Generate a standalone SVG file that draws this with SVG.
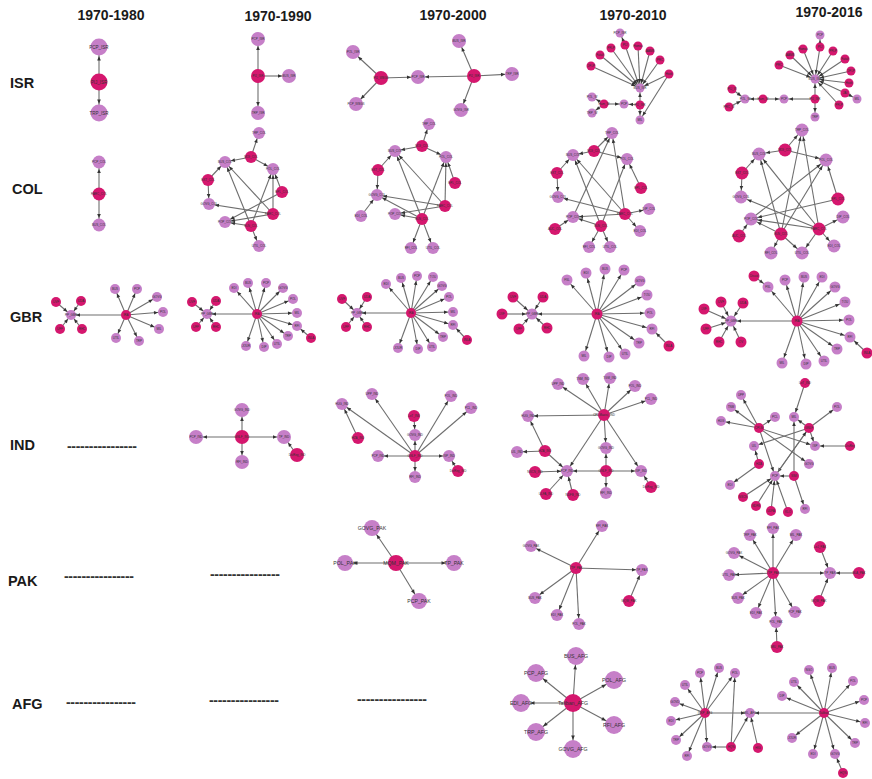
<svg xmlns="http://www.w3.org/2000/svg" width="872" height="779" viewBox="0 0 872 779">
<style>
.h{font:bold 14px "Liberation Sans",Arial,sans-serif;fill:#1a1a1a;text-anchor:middle}
.r{font:bold 14.5px "Liberation Sans",Arial,sans-serif;fill:#1a1a1a}
.d{font:bold 14px "Liberation Sans",Arial,sans-serif;fill:#333}
.p{fill:#c67fc8}
.m{fill:#d5176e}
.t{font:3px "Liberation Sans",Arial,sans-serif;fill:#333;text-anchor:middle}
.t4{font:4.5px "Liberation Sans",Arial,sans-serif;fill:#333;text-anchor:middle}
.t5{font:5.2px "Liberation Sans",Arial,sans-serif;fill:#333;text-anchor:middle}
#connectors line{stroke:#6e6e6e;stroke-width:1.1}
</style>
<defs>
<marker id="a5" markerUnits="userSpaceOnUse" markerWidth="5" markerHeight="4" refX="9" refY="1.8" orient="auto" overflow="visible"><path d="M0,0L4,1.8L0,3.6z" fill="#333"/></marker>
<marker id="a6" markerUnits="userSpaceOnUse" markerWidth="5" markerHeight="4" refX="10" refY="1.8" orient="auto" overflow="visible"><path d="M0,0L4,1.8L0,3.6z" fill="#333"/></marker>
<marker id="a7" markerUnits="userSpaceOnUse" markerWidth="5" markerHeight="4" refX="11" refY="1.8" orient="auto" overflow="visible"><path d="M0,0L4,1.8L0,3.6z" fill="#333"/></marker>
<marker id="a8" markerUnits="userSpaceOnUse" markerWidth="5" markerHeight="4" refX="12.5" refY="1.8" orient="auto" overflow="visible"><path d="M0,0L4.5,1.8L0,3.6z" fill="#333"/></marker>
<marker id="a9" markerUnits="userSpaceOnUse" markerWidth="5" markerHeight="4" refX="13.5" refY="1.8" orient="auto" overflow="visible"><path d="M0,0L4.5,1.8L0,3.6z" fill="#333"/></marker>
</defs>
<rect width="872" height="779" fill="#fff"/>

<g id="headers">
<text class="h" x="111" y="20">1970-1980</text>
<text class="h" x="278" y="21">1970-1990</text>
<text class="h" x="453" y="20">1970-2000</text>
<text class="h" x="633" y="20">1970-2010</text>
<text class="h" x="829" y="17">1970-2016</text>
<text class="r" x="10" y="88">ISR</text>
<text class="r" x="12" y="194">COL</text>
<text class="r" x="10" y="322">GBR</text>
<text class="r" x="10" y="450">IND</text>
<text class="r" x="8" y="586">PAK</text>
<text class="r" x="12" y="709">AFG</text>
</g>
<g id="dashes">
<text class="d" x="67" y="450.5" textLength="70" lengthAdjust="spacing">----------------</text>
<text class="d" x="64" y="580.5" textLength="70" lengthAdjust="spacing">----------------</text>
<text class="d" x="210" y="578.5" textLength="70" lengthAdjust="spacing">----------------</text>
<text class="d" x="66" y="706.5" textLength="70" lengthAdjust="spacing">----------------</text>
<text class="d" x="209" y="704.5" textLength="70" lengthAdjust="spacing">----------------</text>
<text class="d" x="357" y="703.5" textLength="70" lengthAdjust="spacing">----------------</text>
</g>

<g id="connectors">
<!-- ISR 1980 -->
<line x1="99" y1="82" x2="99" y2="47" marker-end="url(#a9)"/>
<line x1="99" y1="82" x2="99" y2="113" marker-end="url(#a9)"/>
<!-- ISR 1990 -->
<line x1="258" y1="76" x2="258" y2="39" marker-end="url(#a7)"/>
<line x1="258" y1="76" x2="289" y2="76" marker-end="url(#a7)"/>
<line x1="258" y1="76" x2="258" y2="113" marker-end="url(#a7)"/>
<!-- ISR 2000 -->
<line x1="381" y1="78" x2="353" y2="52" marker-end="url(#a7)"/>
<line x1="381" y1="78" x2="356" y2="104" marker-end="url(#a7)"/>
<line x1="381" y1="78" x2="418" y2="77" marker-end="url(#a7)"/>
<line x1="474" y1="76" x2="418" y2="77" marker-end="url(#a7)"/>
<line x1="474" y1="76" x2="459" y2="41" marker-end="url(#a7)"/>
<line x1="474" y1="76" x2="512" y2="74" marker-end="url(#a7)"/>
<line x1="474" y1="76" x2="461" y2="110" marker-end="url(#a7)"/>
<!-- ISR 2010 -->
<line x1="625" y1="45" x2="620" y2="33" marker-end="url(#a5)"/>
<line x1="625" y1="45" x2="640" y2="88" marker-end="url(#a5)"/>
<line x1="638" y1="46" x2="640" y2="88" marker-end="url(#a5)"/>
<line x1="611" y1="48" x2="640" y2="88" marker-end="url(#a5)"/>
<line x1="650" y1="51" x2="640" y2="88" marker-end="url(#a5)"/>
<line x1="600" y1="55" x2="640" y2="88" marker-end="url(#a5)"/>
<line x1="660" y1="60" x2="640" y2="88" marker-end="url(#a5)"/>
<line x1="591" y1="66" x2="640" y2="88" marker-end="url(#a5)"/>
<line x1="669" y1="74" x2="640" y2="88" marker-end="url(#a5)"/>
<line x1="640" y1="105" x2="640" y2="88" marker-end="url(#a5)"/>
<line x1="604" y1="104" x2="624" y2="104" marker-end="url(#a5)"/>
<line x1="640" y1="105" x2="624" y2="104" marker-end="url(#a5)"/>
<line x1="604" y1="104" x2="592" y2="97" marker-end="url(#a5)"/>
<line x1="604" y1="104" x2="592" y2="113" marker-end="url(#a5)"/>
<line x1="640" y1="105" x2="640" y2="120" marker-end="url(#a5)"/>
<line x1="669" y1="74" x2="640" y2="120" marker-end="url(#a5)"/>
<!-- ISR 2016 -->
<line x1="820" y1="47" x2="820" y2="35" marker-end="url(#a5)"/>
<line x1="820" y1="47" x2="815" y2="79" marker-end="url(#a5)"/>
<line x1="803" y1="49" x2="815" y2="79" marker-end="url(#a5)"/>
<line x1="833" y1="51" x2="815" y2="79" marker-end="url(#a5)"/>
<line x1="790" y1="55" x2="815" y2="79" marker-end="url(#a5)"/>
<line x1="845" y1="59" x2="815" y2="79" marker-end="url(#a5)"/>
<line x1="779" y1="65" x2="815" y2="79" marker-end="url(#a5)"/>
<line x1="851" y1="71" x2="815" y2="79" marker-end="url(#a5)"/>
<line x1="849" y1="83" x2="815" y2="79" marker-end="url(#a5)"/>
<line x1="845" y1="93" x2="815" y2="79" marker-end="url(#a5)"/>
<line x1="839" y1="105" x2="815" y2="79" marker-end="url(#a5)"/>
<line x1="845" y1="93" x2="857" y2="99" marker-end="url(#a5)"/>
<line x1="815" y1="99" x2="815" y2="79" marker-end="url(#a5)"/>
<line x1="815" y1="99" x2="815" y2="117" marker-end="url(#a5)"/>
<line x1="815" y1="99" x2="784" y2="99" marker-end="url(#a5)"/>
<line x1="763" y1="99" x2="784" y2="99" marker-end="url(#a5)"/>
<line x1="763" y1="99" x2="745" y2="99" marker-end="url(#a5)"/>
<line x1="732" y1="89" x2="745" y2="99" marker-end="url(#a5)"/>
<line x1="729" y1="107" x2="745" y2="99" marker-end="url(#a5)"/>
<!-- COL 1980 -->
<line x1="99" y1="194" x2="99" y2="162" marker-end="url(#a7)"/>
<line x1="99" y1="194" x2="99" y2="225" marker-end="url(#a7)"/>
<!-- COL 1990 -->
<line x1="251" y1="157" x2="259" y2="133" marker-end="url(#a6)"/>
<line x1="251" y1="157" x2="225" y2="162" marker-end="url(#a6)"/>
<line x1="251" y1="157" x2="273" y2="169" marker-end="url(#a6)"/>
<line x1="208" y1="180" x2="225" y2="162" marker-end="url(#a6)"/>
<line x1="208" y1="180" x2="209" y2="204" marker-end="url(#a6)"/>
<line x1="282" y1="192" x2="273" y2="169" marker-end="url(#a6)"/>
<line x1="273" y1="214" x2="225" y2="162" marker-end="url(#a6)"/>
<line x1="273" y1="214" x2="225" y2="222" marker-end="url(#a6)"/>
<line x1="273" y1="214" x2="209" y2="204" marker-end="url(#a6)"/>
<line x1="273" y1="214" x2="273" y2="169" marker-end="url(#a6)"/>
<line x1="251" y1="226" x2="273" y2="169" marker-end="url(#a6)"/>
<line x1="251" y1="226" x2="225" y2="162" marker-end="url(#a6)"/>
<line x1="251" y1="226" x2="225" y2="222" marker-end="url(#a6)"/>
<line x1="251" y1="226" x2="259" y2="246" marker-end="url(#a6)"/>
<line x1="282" y1="192" x2="225" y2="222" marker-end="url(#a6)"/>
<!-- COL 2000 -->
<line x1="422" y1="146" x2="429" y2="124" marker-end="url(#a6)"/>
<line x1="422" y1="146" x2="395" y2="151" marker-end="url(#a6)"/>
<line x1="422" y1="146" x2="446" y2="157" marker-end="url(#a6)"/>
<line x1="378" y1="170" x2="395" y2="151" marker-end="url(#a6)"/>
<line x1="378" y1="170" x2="377" y2="195" marker-end="url(#a6)"/>
<line x1="455" y1="183" x2="446" y2="157" marker-end="url(#a6)"/>
<line x1="361" y1="216" x2="377" y2="195" marker-end="url(#a6)"/>
<line x1="445" y1="206" x2="377" y2="195" marker-end="url(#a6)"/>
<line x1="445" y1="206" x2="395" y2="214" marker-end="url(#a6)"/>
<line x1="445" y1="206" x2="395" y2="151" marker-end="url(#a6)"/>
<line x1="445" y1="206" x2="446" y2="157" marker-end="url(#a6)"/>
<line x1="422" y1="219" x2="395" y2="214" marker-end="url(#a6)"/>
<line x1="422" y1="219" x2="377" y2="195" marker-end="url(#a6)"/>
<line x1="422" y1="219" x2="446" y2="157" marker-end="url(#a6)"/>
<line x1="422" y1="219" x2="411" y2="248" marker-end="url(#a6)"/>
<line x1="422" y1="219" x2="433" y2="248" marker-end="url(#a6)"/>
<line x1="422" y1="219" x2="395" y2="151" marker-end="url(#a6)"/>
<!-- COL 2010 -->
<line x1="594" y1="151" x2="612" y2="133" marker-end="url(#a6)"/>
<line x1="594" y1="151" x2="573" y2="155" marker-end="url(#a6)"/>
<line x1="594" y1="151" x2="627" y2="159" marker-end="url(#a6)"/>
<line x1="557" y1="173" x2="573" y2="155" marker-end="url(#a6)"/>
<line x1="557" y1="173" x2="558" y2="197" marker-end="url(#a6)"/>
<line x1="641" y1="188" x2="627" y2="159" marker-end="url(#a6)"/>
<line x1="555" y1="229" x2="573" y2="217" marker-end="url(#a6)"/>
<line x1="625" y1="214" x2="649" y2="209" marker-end="url(#a6)"/>
<line x1="625" y1="214" x2="640" y2="231" marker-end="url(#a6)"/>
<line x1="601" y1="226" x2="589" y2="247" marker-end="url(#a6)"/>
<line x1="601" y1="226" x2="610" y2="247" marker-end="url(#a6)"/>
<line x1="625" y1="214" x2="573" y2="217" marker-end="url(#a6)"/>
<line x1="601" y1="226" x2="573" y2="217" marker-end="url(#a6)"/>
<line x1="625" y1="214" x2="558" y2="197" marker-end="url(#a6)"/>
<line x1="601" y1="226" x2="573" y2="155" marker-end="url(#a6)"/>
<line x1="601" y1="226" x2="627" y2="159" marker-end="url(#a6)"/>
<line x1="625" y1="214" x2="612" y2="133" marker-end="url(#a6)"/>
<line x1="625" y1="214" x2="573" y2="155" marker-end="url(#a6)"/>
<line x1="573" y1="217" x2="612" y2="133" marker-end="url(#a6)"/>
<!-- COL 2016 -->
<line x1="785" y1="150" x2="802" y2="130" marker-end="url(#a7)"/>
<line x1="785" y1="150" x2="759" y2="154" marker-end="url(#a7)"/>
<line x1="785" y1="150" x2="826" y2="160" marker-end="url(#a7)"/>
<line x1="742" y1="173" x2="759" y2="154" marker-end="url(#a7)"/>
<line x1="742" y1="173" x2="741" y2="197" marker-end="url(#a7)"/>
<line x1="838" y1="199" x2="826" y2="160" marker-end="url(#a7)"/>
<line x1="838" y1="199" x2="751" y2="219" marker-end="url(#a7)"/>
<line x1="739" y1="236" x2="751" y2="219" marker-end="url(#a7)"/>
<line x1="819" y1="229" x2="843" y2="217" marker-end="url(#a7)"/>
<line x1="819" y1="229" x2="834" y2="246" marker-end="url(#a7)"/>
<line x1="781" y1="234" x2="771" y2="253" marker-end="url(#a7)"/>
<line x1="781" y1="234" x2="802" y2="253" marker-end="url(#a7)"/>
<line x1="819" y1="229" x2="802" y2="253" marker-end="url(#a7)"/>
<line x1="819" y1="229" x2="751" y2="219" marker-end="url(#a7)"/>
<line x1="781" y1="234" x2="751" y2="219" marker-end="url(#a7)"/>
<line x1="819" y1="229" x2="741" y2="197" marker-end="url(#a7)"/>
<line x1="781" y1="234" x2="759" y2="154" marker-end="url(#a7)"/>
<line x1="781" y1="234" x2="826" y2="160" marker-end="url(#a7)"/>
<line x1="819" y1="229" x2="802" y2="130" marker-end="url(#a7)"/>
<line x1="781" y1="234" x2="802" y2="130" marker-end="url(#a7)"/>
<line x1="819" y1="229" x2="759" y2="154" marker-end="url(#a7)"/>
<line x1="751" y1="219" x2="826" y2="160" marker-end="url(#a7)"/>
<!-- GBR 1980 -->
<line x1="56" y1="302" x2="71" y2="315" marker-end="url(#a5)"/>
<line x1="81" y1="301" x2="71" y2="315" marker-end="url(#a5)"/>
<line x1="60" y1="329" x2="71" y2="315" marker-end="url(#a5)"/>
<line x1="82" y1="329" x2="71" y2="315" marker-end="url(#a5)"/>
<line x1="126" y1="315" x2="71" y2="315" marker-end="url(#a5)"/>
<line x1="126" y1="315" x2="115" y2="289" marker-end="url(#a5)"/>
<line x1="126" y1="315" x2="137" y2="289" marker-end="url(#a5)"/>
<line x1="126" y1="315" x2="157" y2="297" marker-end="url(#a5)"/>
<line x1="126" y1="315" x2="163" y2="312" marker-end="url(#a5)"/>
<line x1="126" y1="315" x2="159" y2="329" marker-end="url(#a5)"/>
<line x1="126" y1="315" x2="139" y2="341" marker-end="url(#a5)"/>
<line x1="126" y1="315" x2="116" y2="338" marker-end="url(#a5)"/>
<!-- GBR 1990 -->
<line x1="192" y1="302" x2="207" y2="314" marker-end="url(#a5)"/>
<line x1="216" y1="301" x2="207" y2="314" marker-end="url(#a5)"/>
<line x1="196" y1="327" x2="207" y2="314" marker-end="url(#a5)"/>
<line x1="216" y1="327" x2="207" y2="314" marker-end="url(#a5)"/>
<line x1="257" y1="314" x2="207" y2="314" marker-end="url(#a5)"/>
<line x1="257" y1="314" x2="234" y2="288" marker-end="url(#a5)"/>
<line x1="257" y1="314" x2="248" y2="283" marker-end="url(#a5)"/>
<line x1="257" y1="314" x2="266" y2="283" marker-end="url(#a5)"/>
<line x1="257" y1="314" x2="283" y2="288" marker-end="url(#a5)"/>
<line x1="257" y1="314" x2="293" y2="299" marker-end="url(#a5)"/>
<line x1="257" y1="314" x2="297" y2="313" marker-end="url(#a5)"/>
<line x1="257" y1="314" x2="297" y2="326" marker-end="url(#a5)"/>
<line x1="257" y1="314" x2="288" y2="336" marker-end="url(#a5)"/>
<line x1="257" y1="314" x2="277" y2="344" marker-end="url(#a5)"/>
<line x1="257" y1="314" x2="264" y2="347" marker-end="url(#a5)"/>
<line x1="257" y1="314" x2="246" y2="346" marker-end="url(#a5)"/>
<line x1="311" y1="338" x2="297" y2="326" marker-end="url(#a5)"/>
<!-- GBR 2000 -->
<line x1="342" y1="299" x2="357" y2="313" marker-end="url(#a5)"/>
<line x1="367" y1="297" x2="357" y2="313" marker-end="url(#a5)"/>
<line x1="346" y1="327" x2="357" y2="313" marker-end="url(#a5)"/>
<line x1="367" y1="327" x2="357" y2="313" marker-end="url(#a5)"/>
<line x1="411" y1="313" x2="357" y2="313" marker-end="url(#a5)"/>
<line x1="411" y1="313" x2="386" y2="284" marker-end="url(#a5)"/>
<line x1="411" y1="313" x2="401" y2="278" marker-end="url(#a5)"/>
<line x1="411" y1="313" x2="417" y2="276" marker-end="url(#a5)"/>
<line x1="411" y1="313" x2="433" y2="277" marker-end="url(#a5)"/>
<line x1="411" y1="313" x2="442" y2="286" marker-end="url(#a5)"/>
<line x1="411" y1="313" x2="449" y2="297" marker-end="url(#a5)"/>
<line x1="411" y1="313" x2="453" y2="312" marker-end="url(#a5)"/>
<line x1="411" y1="313" x2="453" y2="325" marker-end="url(#a5)"/>
<line x1="411" y1="313" x2="443" y2="337" marker-end="url(#a5)"/>
<line x1="411" y1="313" x2="432" y2="347" marker-end="url(#a5)"/>
<line x1="411" y1="313" x2="418" y2="349" marker-end="url(#a5)"/>
<line x1="411" y1="313" x2="398" y2="348" marker-end="url(#a5)"/>
<line x1="467" y1="340" x2="453" y2="325" marker-end="url(#a5)"/>
<!-- GBR 2010 -->
<line x1="513" y1="297" x2="532" y2="314" marker-end="url(#a6)"/>
<line x1="543" y1="297" x2="532" y2="314" marker-end="url(#a6)"/>
<line x1="502" y1="314" x2="532" y2="314" marker-end="url(#a6)"/>
<line x1="519" y1="329" x2="532" y2="314" marker-end="url(#a6)"/>
<line x1="547" y1="328" x2="532" y2="314" marker-end="url(#a6)"/>
<line x1="597" y1="314" x2="532" y2="314" marker-end="url(#a6)"/>
<line x1="597" y1="314" x2="567" y2="280" marker-end="url(#a6)"/>
<line x1="597" y1="314" x2="586" y2="273" marker-end="url(#a6)"/>
<line x1="597" y1="314" x2="605" y2="269" marker-end="url(#a6)"/>
<line x1="597" y1="314" x2="624" y2="270" marker-end="url(#a6)"/>
<line x1="597" y1="314" x2="640" y2="281" marker-end="url(#a6)"/>
<line x1="597" y1="314" x2="647" y2="295" marker-end="url(#a6)"/>
<line x1="597" y1="314" x2="650" y2="313" marker-end="url(#a6)"/>
<line x1="597" y1="314" x2="652" y2="329" marker-end="url(#a6)"/>
<line x1="597" y1="314" x2="639" y2="343" marker-end="url(#a6)"/>
<line x1="597" y1="314" x2="625" y2="354" marker-end="url(#a6)"/>
<line x1="597" y1="314" x2="609" y2="357" marker-end="url(#a6)"/>
<line x1="597" y1="314" x2="584" y2="356" marker-end="url(#a6)"/>
<line x1="669" y1="346" x2="652" y2="329" marker-end="url(#a6)"/>
<!-- GBR 2016 -->
<line x1="721" y1="302" x2="731" y2="321" marker-end="url(#a6)"/>
<line x1="743" y1="303" x2="731" y2="321" marker-end="url(#a6)"/>
<line x1="704" y1="309" x2="731" y2="321" marker-end="url(#a6)"/>
<line x1="706" y1="329" x2="731" y2="321" marker-end="url(#a6)"/>
<line x1="719" y1="342" x2="731" y2="321" marker-end="url(#a6)"/>
<line x1="741" y1="342" x2="731" y2="321" marker-end="url(#a6)"/>
<line x1="797" y1="321" x2="731" y2="321" marker-end="url(#a6)"/>
<line x1="797" y1="321" x2="768" y2="287" marker-end="url(#a6)"/>
<line x1="754" y1="276" x2="768" y2="287" marker-end="url(#a6)"/>
<line x1="797" y1="321" x2="785" y2="280" marker-end="url(#a6)"/>
<line x1="797" y1="321" x2="804" y2="277" marker-end="url(#a6)"/>
<line x1="797" y1="321" x2="822" y2="277" marker-end="url(#a6)"/>
<line x1="797" y1="321" x2="835" y2="287" marker-end="url(#a6)"/>
<line x1="797" y1="321" x2="845" y2="302" marker-end="url(#a6)"/>
<line x1="797" y1="321" x2="849" y2="320" marker-end="url(#a6)"/>
<line x1="797" y1="321" x2="850" y2="337" marker-end="url(#a6)"/>
<line x1="867" y1="353" x2="850" y2="337" marker-end="url(#a6)"/>
<line x1="797" y1="321" x2="837" y2="349" marker-end="url(#a6)"/>
<line x1="797" y1="321" x2="824" y2="361" marker-end="url(#a6)"/>
<line x1="797" y1="321" x2="806" y2="364" marker-end="url(#a6)"/>
<line x1="797" y1="321" x2="782" y2="363" marker-end="url(#a6)"/>
<!-- IND 1990 -->
<line x1="242" y1="437" x2="242" y2="410" marker-end="url(#a7)"/>
<line x1="242" y1="437" x2="196" y2="437" marker-end="url(#a7)"/>
<line x1="242" y1="437" x2="242" y2="462" marker-end="url(#a7)"/>
<line x1="242" y1="437" x2="284" y2="437" marker-end="url(#a7)"/>
<line x1="297" y1="455" x2="284" y2="437" marker-end="url(#a7)"/>
<!-- IND 2000 -->
<line x1="415" y1="456" x2="342" y2="404" marker-end="url(#a6)"/>
<line x1="415" y1="456" x2="372" y2="394" marker-end="url(#a6)"/>
<line x1="415" y1="456" x2="415" y2="435" marker-end="url(#a6)"/>
<line x1="415" y1="456" x2="451" y2="396" marker-end="url(#a6)"/>
<line x1="415" y1="456" x2="471" y2="408" marker-end="url(#a6)"/>
<line x1="415" y1="456" x2="378" y2="456" marker-end="url(#a6)"/>
<line x1="415" y1="456" x2="449" y2="456" marker-end="url(#a6)"/>
<line x1="415" y1="456" x2="415" y2="477" marker-end="url(#a6)"/>
<line x1="414" y1="416" x2="415" y2="435" marker-end="url(#a6)"/>
<line x1="358" y1="438" x2="342" y2="404" marker-end="url(#a6)"/>
<line x1="458" y1="471" x2="449" y2="456" marker-end="url(#a6)"/>
<!-- IND 2010 -->
<line x1="604" y1="415" x2="558" y2="384" marker-end="url(#a6)"/>
<line x1="604" y1="415" x2="583" y2="379" marker-end="url(#a6)"/>
<line x1="604" y1="415" x2="610" y2="378" marker-end="url(#a6)"/>
<line x1="604" y1="415" x2="635" y2="386" marker-end="url(#a6)"/>
<line x1="604" y1="415" x2="651" y2="399" marker-end="url(#a6)"/>
<line x1="604" y1="415" x2="528" y2="416" marker-end="url(#a6)"/>
<line x1="604" y1="415" x2="606" y2="448" marker-end="url(#a6)"/>
<line x1="604" y1="415" x2="641" y2="471" marker-end="url(#a6)"/>
<line x1="604" y1="415" x2="567" y2="471" marker-end="url(#a6)"/>
<line x1="545" y1="451" x2="528" y2="416" marker-end="url(#a6)"/>
<line x1="545" y1="451" x2="517" y2="452" marker-end="url(#a6)"/>
<line x1="545" y1="451" x2="567" y2="471" marker-end="url(#a6)"/>
<line x1="606" y1="471" x2="606" y2="448" marker-end="url(#a6)"/>
<line x1="606" y1="471" x2="641" y2="471" marker-end="url(#a6)"/>
<line x1="606" y1="471" x2="606" y2="493" marker-end="url(#a6)"/>
<line x1="606" y1="471" x2="567" y2="471" marker-end="url(#a6)"/>
<line x1="651" y1="487" x2="641" y2="471" marker-end="url(#a6)"/>
<line x1="535" y1="472" x2="567" y2="471" marker-end="url(#a6)"/>
<line x1="546" y1="494" x2="567" y2="471" marker-end="url(#a6)"/>
<line x1="573" y1="495" x2="567" y2="471" marker-end="url(#a6)"/>
<!-- IND 2016 -->
<line x1="805" y1="383" x2="794" y2="417" marker-end="url(#a5)"/>
<line x1="759" y1="428" x2="741" y2="395" marker-end="url(#a5)"/>
<line x1="759" y1="428" x2="731" y2="407" marker-end="url(#a5)"/>
<line x1="759" y1="428" x2="721" y2="421" marker-end="url(#a5)"/>
<line x1="759" y1="428" x2="775" y2="417" marker-end="url(#a5)"/>
<line x1="759" y1="428" x2="815" y2="446" marker-end="url(#a5)"/>
<line x1="759" y1="428" x2="809" y2="464" marker-end="url(#a5)"/>
<line x1="759" y1="428" x2="775" y2="476" marker-end="url(#a5)"/>
<line x1="809" y1="428" x2="794" y2="417" marker-end="url(#a5)"/>
<line x1="809" y1="428" x2="837" y2="407" marker-end="url(#a5)"/>
<line x1="809" y1="428" x2="754" y2="446" marker-end="url(#a5)"/>
<line x1="809" y1="428" x2="815" y2="446" marker-end="url(#a5)"/>
<line x1="809" y1="428" x2="775" y2="476" marker-end="url(#a5)"/>
<line x1="850" y1="446" x2="815" y2="446" marker-end="url(#a5)"/>
<line x1="759" y1="464" x2="754" y2="446" marker-end="url(#a5)"/>
<line x1="759" y1="464" x2="730" y2="485" marker-end="url(#a5)"/>
<line x1="794" y1="476" x2="794" y2="417" marker-end="url(#a5)"/>
<line x1="794" y1="476" x2="775" y2="476" marker-end="url(#a5)"/>
<line x1="794" y1="476" x2="805" y2="509" marker-end="url(#a5)"/>
<line x1="743" y1="497" x2="775" y2="476" marker-end="url(#a5)"/>
<line x1="756" y1="506" x2="775" y2="476" marker-end="url(#a5)"/>
<line x1="771" y1="511" x2="775" y2="476" marker-end="url(#a5)"/>
<line x1="788" y1="512" x2="775" y2="476" marker-end="url(#a5)"/>
<line x1="775" y1="476" x2="809" y2="428" marker-end="url(#a5)"/>
<!-- PAK 2000 -->
<line x1="396" y1="563" x2="372" y2="528" marker-end="url(#a8)"/>
<line x1="396" y1="563" x2="345" y2="563" marker-end="url(#a8)"/>
<line x1="396" y1="563" x2="454" y2="563" marker-end="url(#a8)"/>
<line x1="396" y1="563" x2="419" y2="601" marker-end="url(#a8)"/>
<!-- PAK 2010 -->
<line x1="576" y1="568" x2="531" y2="546" marker-end="url(#a6)"/>
<line x1="576" y1="568" x2="602" y2="526" marker-end="url(#a6)"/>
<line x1="576" y1="568" x2="642" y2="570" marker-end="url(#a6)"/>
<line x1="576" y1="568" x2="535" y2="598" marker-end="url(#a6)"/>
<line x1="576" y1="568" x2="557" y2="615" marker-end="url(#a6)"/>
<line x1="576" y1="568" x2="579" y2="624" marker-end="url(#a6)"/>
<line x1="629" y1="601" x2="642" y2="570" marker-end="url(#a6)"/>
<!-- PAK 2016 -->
<line x1="773" y1="573" x2="773" y2="528" marker-end="url(#a6)"/>
<line x1="773" y1="573" x2="750" y2="535" marker-end="url(#a6)"/>
<line x1="773" y1="573" x2="796" y2="535" marker-end="url(#a6)"/>
<line x1="773" y1="573" x2="734" y2="553" marker-end="url(#a6)"/>
<line x1="773" y1="573" x2="830" y2="573" marker-end="url(#a6)"/>
<line x1="773" y1="573" x2="729" y2="575" marker-end="url(#a6)"/>
<line x1="773" y1="573" x2="738" y2="598" marker-end="url(#a6)"/>
<line x1="773" y1="573" x2="756" y2="613" marker-end="url(#a6)"/>
<line x1="773" y1="573" x2="776" y2="622" marker-end="url(#a6)"/>
<line x1="773" y1="573" x2="795" y2="612" marker-end="url(#a6)"/>
<line x1="820" y1="547" x2="830" y2="573" marker-end="url(#a6)"/>
<line x1="859" y1="573" x2="830" y2="573" marker-end="url(#a6)"/>
<line x1="819" y1="601" x2="830" y2="573" marker-end="url(#a6)"/>
<line x1="777" y1="647" x2="776" y2="622" marker-end="url(#a6)"/>
<!-- AFG 2010 -->
<line x1="573" y1="703" x2="576" y2="656" marker-end="url(#a9)"/>
<line x1="573" y1="703" x2="536" y2="673" marker-end="url(#a9)"/>
<line x1="573" y1="703" x2="521" y2="703" marker-end="url(#a9)"/>
<line x1="573" y1="703" x2="536" y2="732" marker-end="url(#a9)"/>
<line x1="573" y1="703" x2="573" y2="749" marker-end="url(#a9)"/>
<line x1="573" y1="703" x2="614" y2="680" marker-end="url(#a9)"/>
<line x1="573" y1="703" x2="614" y2="725" marker-end="url(#a9)"/>
<!-- AFG 2016 -->
<line x1="705" y1="713" x2="685" y2="685" marker-end="url(#a5)"/>
<line x1="705" y1="713" x2="700" y2="673" marker-end="url(#a5)"/>
<line x1="705" y1="713" x2="719" y2="668" marker-end="url(#a5)"/>
<line x1="705" y1="713" x2="735" y2="673" marker-end="url(#a5)"/>
<line x1="705" y1="713" x2="675" y2="702" marker-end="url(#a5)"/>
<line x1="705" y1="713" x2="671" y2="721" marker-end="url(#a5)"/>
<line x1="705" y1="713" x2="676" y2="740" marker-end="url(#a5)"/>
<line x1="705" y1="713" x2="687" y2="756" marker-end="url(#a5)"/>
<line x1="705" y1="713" x2="707" y2="747" marker-end="url(#a5)"/>
<line x1="705" y1="713" x2="750" y2="713" marker-end="url(#a5)"/>
<line x1="731" y1="747" x2="707" y2="747" marker-end="url(#a5)"/>
<line x1="731" y1="747" x2="735" y2="673" marker-end="url(#a5)"/>
<line x1="731" y1="747" x2="750" y2="713" marker-end="url(#a5)"/>
<line x1="758" y1="748" x2="750" y2="713" marker-end="url(#a5)"/>
<line x1="824" y1="713" x2="750" y2="713" marker-end="url(#a5)"/>
<line x1="824" y1="713" x2="794" y2="682" marker-end="url(#a5)"/>
<line x1="824" y1="713" x2="809" y2="670" marker-end="url(#a5)"/>
<line x1="824" y1="713" x2="832" y2="668" marker-end="url(#a5)"/>
<line x1="824" y1="713" x2="853" y2="681" marker-end="url(#a5)"/>
<line x1="824" y1="713" x2="864" y2="700" marker-end="url(#a5)"/>
<line x1="824" y1="713" x2="865" y2="723" marker-end="url(#a5)"/>
<line x1="824" y1="713" x2="855" y2="743" marker-end="url(#a5)"/>
<line x1="824" y1="713" x2="835" y2="754" marker-end="url(#a5)"/>
<line x1="824" y1="713" x2="813" y2="754" marker-end="url(#a5)"/>
<line x1="824" y1="713" x2="792" y2="738" marker-end="url(#a5)"/>
<line x1="824" y1="713" x2="782" y2="696" marker-end="url(#a5)"/>
<line x1="843" y1="773" x2="835" y2="754" marker-end="url(#a5)"/>
</g>

<g id="nodes">
<!-- ISR 1980 -->
<g id="isr80-pcp"><circle class="p" cx="99" cy="47" r="8.5"/><text class="t4" x="99" y="48.6">PCP_ISR</text></g>
<g id="isr80-pij"><circle class="m" cx="99" cy="82" r="8.5"/><text class="t4" x="99" y="83.6">PIJ_ISR</text></g>
<g id="isr80-trp"><circle class="p" cx="99" cy="113" r="8.5"/><text class="t4" x="99" y="114.6">TRP_ISR</text></g>
<!-- ISR 1990 -->
<g id="isr90-pcp"><circle class="p" cx="258" cy="39" r="7"/><text class="t" x="258" y="40">PCP_ISR</text></g>
<g id="isr90-pij"><circle class="m" cx="258" cy="76" r="7"/><text class="t" x="258" y="77">PIJ_ISR</text></g>
<g id="isr90-bus"><circle class="p" cx="289" cy="76" r="7"/><text class="t" x="289" y="77">BUS_ISR</text></g>
<g id="isr90-trp"><circle class="p" cx="258" cy="113" r="7"/><text class="t" x="258" y="114">TRP_ISR</text></g>
<!-- ISR 2000 -->
<g id="isr00-polw"><circle class="p" cx="353" cy="52" r="7"/><text class="t" x="353" y="53">POL_ISR</text></g>
<g id="isr00-pijw"><circle class="m" cx="381" cy="78" r="7"/><text class="t" x="381" y="79">PIJ_WBGS</text></g>
<g id="isr00-pcpw"><circle class="p" cx="356" cy="104" r="7"/><text class="t" x="356" y="105">PCP_WBGS</text></g>
<g id="isr00-pcp"><circle class="p" cx="418" cy="77" r="7"/><text class="t" x="418" y="78">PCP_ISR</text></g>
<g id="isr00-pij"><circle class="m" cx="474" cy="76" r="7"/><text class="t" x="474" y="77">PIJ_ISR</text></g>
<g id="isr00-bus"><circle class="p" cx="459" cy="41" r="7"/><text class="t" x="459" y="42">BUS_ISR</text></g>
<g id="isr00-trp"><circle class="p" cx="512" cy="74" r="7"/><text class="t" x="512" y="75">TRP_ISR</text></g>
<g id="isr00-govg"><circle class="p" cx="461" cy="110" r="7"/><text class="t" x="461" y="111">GOVG_ISR</text></g>
<!-- ISR 2010 -->
<g id="isr10-pcp"><circle class="p" cx="620" cy="33" r="4.5"/><text class="t" x="620" y="34">PCP_ISR</text></g>
<g id="isr10-a"><circle class="m" cx="625" cy="45" r="4.5"/><text class="t" x="625" y="46">PIJ</text></g>
<g id="isr10-b"><circle class="m" cx="638" cy="46" r="4.5"/><text class="t" x="638" y="47">Hamas</text></g>
<g id="isr10-c"><circle class="m" cx="611" cy="48" r="4.5"/><text class="t" x="611" y="49">PFLP</text></g>
<g id="isr10-d"><circle class="m" cx="650" cy="51" r="4.5"/><text class="t" x="650" y="52">AAMB</text></g>
<g id="isr10-e"><circle class="m" cx="600" cy="55" r="4.5"/><text class="t" x="600" y="56">Fatah</text></g>
<g id="isr10-f"><circle class="m" cx="660" cy="60" r="4.5"/><text class="t" x="660" y="61">PRC</text></g>
<g id="isr10-g"><circle class="m" cx="591" cy="66" r="4.5"/><text class="t" x="591" y="67">DFLP</text></g>
<g id="isr10-h"><circle class="m" cx="669" cy="74" r="4.5"/><text class="t" x="669" y="75">Hezb</text></g>
<g id="isr10-hub"><circle class="p" cx="640" cy="88" r="4.5"/><text class="t" x="640" y="89">BUS_ISR</text></g>
<g id="isr10-k"><circle class="m" cx="640" cy="105" r="4.5"/><text class="t" x="640" y="106">PIJ_ISR</text></g>
<g id="isr10-l"><circle class="p" cx="624" cy="104" r="4.5"/><text class="t" x="624" y="105">PCP</text></g>
<g id="isr10-n"><circle class="m" cx="604" cy="104" r="4.5"/><text class="t" x="604" y="105">Ham_W</text></g>
<g id="isr10-o"><circle class="p" cx="592" cy="97" r="4.5"/><text class="t" x="592" y="98">POL_W</text></g>
<g id="isr10-q"><circle class="p" cx="592" cy="113" r="4.5"/><text class="t" x="592" y="114">TRP_W</text></g>
<g id="isr10-s"><circle class="p" cx="640" cy="120" r="4.5"/><text class="t" x="640" y="121">MIL</text></g>
<!-- ISR 2016 -->
<g id="isr16-pcp"><circle class="p" cx="820" cy="35" r="4.5"/><text class="t" x="820" y="36">PCP</text></g>
<g id="isr16-a"><circle class="m" cx="820" cy="47" r="4.5"/><text class="t" x="820" y="48">PIJ</text></g>
<g id="isr16-b"><circle class="m" cx="803" cy="49" r="4.5"/><text class="t" x="803" y="50">Hamas</text></g>
<g id="isr16-c"><circle class="m" cx="833" cy="51" r="4.5"/><text class="t" x="833" y="52">PFLP</text></g>
<g id="isr16-d"><circle class="m" cx="790" cy="55" r="4.5"/><text class="t" x="790" y="56">AAMB</text></g>
<g id="isr16-e"><circle class="m" cx="845" cy="59" r="4.5"/><text class="t" x="845" y="60">Fatah</text></g>
<g id="isr16-f"><circle class="m" cx="779" cy="65" r="4.5"/><text class="t" x="779" y="66">PRC</text></g>
<g id="isr16-g"><circle class="m" cx="851" cy="71" r="4.5"/><text class="t" x="851" y="72">DFLP</text></g>
<g id="isr16-h"><circle class="m" cx="849" cy="83" r="4.5"/><text class="t" x="849" y="84">Hezb</text></g>
<g id="isr16-i"><circle class="m" cx="845" cy="93" r="4.5"/><text class="t" x="845" y="94">JAI</text></g>
<g id="isr16-j"><circle class="p" cx="857" cy="99" r="4.5"/><text class="t" x="857" y="100">MIL</text></g>
<g id="isr16-k"><circle class="m" cx="839" cy="105" r="4.5"/><text class="t" x="839" y="106">PFLP</text></g>
<g id="isr16-hub"><circle class="p" cx="815" cy="79" r="4.5"/><text class="t" x="815" y="80">BUS_ISR</text></g>
<g id="isr16-l"><circle class="m" cx="815" cy="99" r="4.5"/><text class="t" x="815" y="100">PIJ_ISR</text></g>
<g id="isr16-s"><circle class="p" cx="815" cy="117" r="4.5"/><text class="t" x="815" y="118">TRP</text></g>
<g id="isr16-u"><circle class="p" cx="784" cy="99" r="4.5"/><text class="t" x="784" y="100">PCP</text></g>
<g id="isr16-v"><circle class="m" cx="763" cy="99" r="4.5"/><text class="t" x="763" y="100">Ham_W</text></g>
<g id="isr16-w"><circle class="p" cx="745" cy="99" r="4.5"/><text class="t" x="745" y="100">POL_W</text></g>
<g id="isr16-x"><circle class="m" cx="732" cy="89" r="4.5"/><text class="t" x="732" y="90">PIJ_W</text></g>
<g id="isr16-y"><circle class="m" cx="729" cy="107" r="4.5"/><text class="t" x="729" y="108">PRC_W</text></g>
<!-- COL 1980 -->
<g id="col80-pcp"><circle class="p" cx="99" cy="162" r="6.5"/><text class="t" x="99" y="163">PCP_COL</text></g>
<g id="col80-farc"><circle class="m" cx="99" cy="194" r="6.5"/><text class="t" x="99" y="195">FARC_COL</text></g>
<g id="col80-bus"><circle class="p" cx="99" cy="225" r="6.5"/><text class="t" x="99" y="226">BUS_COL</text></g>
<!-- COL 1990 -->
<g id="col90-trp"><circle class="p" cx="259" cy="133" r="6"/><text class="t" x="259" y="134">TRP_COL</text></g>
<g id="col90-bus"><circle class="p" cx="225" cy="162" r="6"/><text class="t" x="225" y="163">BUS_COL</text></g>
<g id="col90-m19"><circle class="m" cx="251" cy="157" r="6"/><text class="t" x="251" y="158">M19_COL</text></g>
<g id="col90-pol"><circle class="p" cx="273" cy="169" r="6"/><text class="t" x="273" y="170">POL_COL</text></g>
<g id="col90-ext"><circle class="m" cx="208" cy="180" r="6"/><text class="t" x="208" y="181">EXT_COL</text></g>
<g id="col90-epl"><circle class="m" cx="282" cy="192" r="6"/><text class="t" x="282" y="193">EPL_COL</text></g>
<g id="col90-govg"><circle class="p" cx="209" cy="204" r="6"/><text class="t" x="209" y="205">GOVG_COL</text></g>
<g id="col90-farc"><circle class="m" cx="273" cy="214" r="6"/><text class="t" x="273" y="215">FARC_COL</text></g>
<g id="col90-pop"><circle class="p" cx="225" cy="222" r="6"/><text class="t" x="225" y="223">POP_COL</text></g>
<g id="col90-eln"><circle class="m" cx="251" cy="226" r="6"/><text class="t" x="251" y="227">ELN_COL</text></g>
<g id="col90-util"><circle class="p" cx="259" cy="246" r="6"/><text class="t" x="259" y="247">UTIL_COL</text></g>
<!-- COL 2000 -->
<g id="col00-trp"><circle class="p" cx="429" cy="124" r="6"/><text class="t" x="429" y="125">TRP_COL</text></g>
<g id="col00-m19"><circle class="m" cx="422" cy="146" r="6"/><text class="t" x="422" y="147">M19_COL</text></g>
<g id="col00-bus"><circle class="p" cx="395" cy="151" r="6"/><text class="t" x="395" y="152">BUS_COL</text></g>
<g id="col00-pol"><circle class="p" cx="446" cy="157" r="6"/><text class="t" x="446" y="158">POL_COL</text></g>
<g id="col00-ext"><circle class="m" cx="378" cy="170" r="6"/><text class="t" x="378" y="171">EXT_COL</text></g>
<g id="col00-epl"><circle class="m" cx="455" cy="183" r="6"/><text class="t" x="455" y="184">EPL_COL</text></g>
<g id="col00-govg"><circle class="p" cx="377" cy="195" r="6"/><text class="t" x="377" y="196">GOVG_COL</text></g>
<g id="col00-edi"><circle class="p" cx="361" cy="216" r="6"/><text class="t" x="361" y="217">EDI_COL</text></g>
<g id="col00-pop"><circle class="p" cx="395" cy="214" r="6"/><text class="t" x="395" y="215">POP_COL</text></g>
<g id="col00-farc"><circle class="m" cx="445" cy="206" r="6"/><text class="t" x="445" y="207">FARC_COL</text></g>
<g id="col00-eln"><circle class="m" cx="422" cy="219" r="6"/><text class="t" x="422" y="220">ELN_COL</text></g>
<g id="col00-rfi"><circle class="p" cx="411" cy="248" r="6"/><text class="t" x="411" y="249">RFI_COL</text></g>
<g id="col00-util"><circle class="p" cx="433" cy="248" r="6"/><text class="t" x="433" y="249">UTIL_COL</text></g>
<!-- COL 2010 -->
<g id="col10-trp"><circle class="p" cx="612" cy="133" r="6"/><text class="t" x="612" y="134">TRP_COL</text></g>
<g id="col10-m19"><circle class="m" cx="594" cy="151" r="6"/><text class="t" x="594" y="152">M19_COL</text></g>
<g id="col10-bus"><circle class="p" cx="573" cy="155" r="6"/><text class="t" x="573" y="156">BUS_COL</text></g>
<g id="col10-pol"><circle class="p" cx="627" cy="159" r="6"/><text class="t" x="627" y="160">POL_COL</text></g>
<g id="col10-ext"><circle class="m" cx="557" cy="173" r="6"/><text class="t" x="557" y="174">EXT_COL</text></g>
<g id="col10-epl"><circle class="m" cx="641" cy="188" r="6"/><text class="t" x="641" y="189">EPL_COL</text></g>
<g id="col10-govg"><circle class="p" cx="558" cy="197" r="6"/><text class="t" x="558" y="198">GOVG_COL</text></g>
<g id="col10-pop"><circle class="p" cx="573" cy="217" r="6"/><text class="t" x="573" y="218">POP_COL</text></g>
<g id="col10-asc"><circle class="m" cx="555" cy="229" r="6"/><text class="t" x="555" y="230">AUC_COL</text></g>
<g id="col10-eln"><circle class="m" cx="601" cy="226" r="6"/><text class="t" x="601" y="227">ELN_COL</text></g>
<g id="col10-farc"><circle class="m" cx="625" cy="214" r="6"/><text class="t" x="625" y="215">FARC_COL</text></g>
<g id="col10-dip"><circle class="p" cx="649" cy="209" r="6"/><text class="t" x="649" y="210">DIP_COL</text></g>
<g id="col10-edi"><circle class="p" cx="640" cy="231" r="6"/><text class="t" x="640" y="232">EDI_COL</text></g>
<g id="col10-rfi"><circle class="p" cx="589" cy="247" r="6"/><text class="t" x="589" y="248">RFI_COL</text></g>
<g id="col10-util"><circle class="p" cx="610" cy="247" r="6"/><text class="t" x="610" y="248">UTIL_COL</text></g>
<!-- COL 2016 -->
<g id="col16-trp"><circle class="p" cx="802" cy="130" r="6.5"/><text class="t" x="802" y="131">TRP_COL</text></g>
<g id="col16-m19"><circle class="m" cx="785" cy="150" r="6.5"/><text class="t" x="785" y="151">M19_COL</text></g>
<g id="col16-bus"><circle class="p" cx="759" cy="154" r="6.5"/><text class="t" x="759" y="155">BUS_COL</text></g>
<g id="col16-pol"><circle class="p" cx="826" cy="160" r="6.5"/><text class="t" x="826" y="161">POL_COL</text></g>
<g id="col16-ext"><circle class="m" cx="742" cy="173" r="6.5"/><text class="t" x="742" y="174">EXT_COL</text></g>
<g id="col16-govg"><circle class="p" cx="741" cy="197" r="6.5"/><text class="t" x="741" y="198">GOVG_COL</text></g>
<g id="col16-epl"><circle class="m" cx="838" cy="199" r="6.5"/><text class="t" x="838" y="200">EPL_COL</text></g>
<g id="col16-pop"><circle class="p" cx="751" cy="219" r="6.5"/><text class="t" x="751" y="220">POP_COL</text></g>
<g id="col16-asc"><circle class="m" cx="739" cy="236" r="6.5"/><text class="t" x="739" y="237">AUC_COL</text></g>
<g id="col16-eln"><circle class="m" cx="781" cy="234" r="6.5"/><text class="t" x="781" y="235">ELN_COL</text></g>
<g id="col16-farc"><circle class="m" cx="819" cy="229" r="6.5"/><text class="t" x="819" y="230">FARC_COL</text></g>
<g id="col16-dip"><circle class="p" cx="843" cy="217" r="6.5"/><text class="t" x="843" y="218">DIP_COL</text></g>
<g id="col16-edi"><circle class="p" cx="834" cy="246" r="6.5"/><text class="t" x="834" y="247">EDI_COL</text></g>
<g id="col16-rfi"><circle class="p" cx="771" cy="253" r="6.5"/><text class="t" x="771" y="254">RFI_COL</text></g>
<g id="col16-util"><circle class="p" cx="802" cy="253" r="6.5"/><text class="t" x="802" y="254">UTIL_COL</text></g>
<!-- GBR 1980 -->
<g id="gbr80-pp"><circle class="p" cx="71" cy="315" r="5"/><text class="t" x="71" y="316">PP_GBR</text></g>
<g id="gbr80-m1"><circle class="m" cx="56" cy="302" r="5"/><text class="t" x="56" y="303">UVF</text></g>
<g id="gbr80-m2"><circle class="m" cx="81" cy="301" r="5"/><text class="t" x="81" y="302">UDA</text></g>
<g id="gbr80-m3"><circle class="m" cx="60" cy="329" r="5"/><text class="t" x="60" y="330">UFF</text></g>
<g id="gbr80-m4"><circle class="m" cx="82" cy="329" r="5"/><text class="t" x="82" y="330">RHC</text></g>
<g id="gbr80-ira"><circle class="m" cx="126" cy="315" r="5"/><text class="t" x="126" y="316">IRA</text></g>
<g id="gbr80-s1"><circle class="p" cx="115" cy="289" r="5"/><text class="t" x="115" y="290">BUS</text></g>
<g id="gbr80-s2"><circle class="p" cx="137" cy="289" r="5"/><text class="t" x="137" y="290">PCP</text></g>
<g id="gbr80-s3"><circle class="p" cx="157" cy="297" r="5"/><text class="t" x="157" y="298">GOVG</text></g>
<g id="gbr80-s4"><circle class="p" cx="163" cy="312" r="5"/><text class="t" x="163" y="313">POL</text></g>
<g id="gbr80-s5"><circle class="p" cx="159" cy="329" r="5"/><text class="t" x="159" y="330">MIL</text></g>
<g id="gbr80-s6"><circle class="p" cx="139" cy="341" r="5"/><text class="t" x="139" y="342">TRP</text></g>
<g id="gbr80-s7"><circle class="p" cx="116" cy="338" r="5"/><text class="t" x="116" y="339">UTIL</text></g>
<!-- GBR 1990 -->
<g id="gbr90-pp"><circle class="p" cx="207" cy="314" r="5"/><text class="t" x="207" y="315">PP_GBR</text></g>
<g id="gbr90-m1"><circle class="m" cx="192" cy="302" r="5"/><text class="t" x="192" y="303">UVF</text></g>
<g id="gbr90-m2"><circle class="m" cx="216" cy="301" r="5"/><text class="t" x="216" y="302">UDA</text></g>
<g id="gbr90-m3"><circle class="m" cx="196" cy="327" r="5"/><text class="t" x="196" y="328">UFF</text></g>
<g id="gbr90-m4"><circle class="m" cx="216" cy="327" r="5"/><text class="t" x="216" y="328">RHC</text></g>
<g id="gbr90-ira"><circle class="m" cx="257" cy="314" r="5"/><text class="t" x="257" y="315">IRA</text></g>
<g id="gbr90-s1"><circle class="p" cx="234" cy="288" r="5"/><text class="t" x="234" y="289">EDI</text></g>
<g id="gbr90-s2"><circle class="p" cx="248" cy="283" r="5"/><text class="t" x="248" y="284">BUS</text></g>
<g id="gbr90-s3"><circle class="p" cx="266" cy="283" r="5"/><text class="t" x="266" y="284">PCP</text></g>
<g id="gbr90-s4"><circle class="p" cx="283" cy="288" r="5"/><text class="t" x="283" y="289">GOVG</text></g>
<g id="gbr90-s5"><circle class="p" cx="293" cy="299" r="5"/><text class="t" x="293" y="300">POL</text></g>
<g id="gbr90-s6"><circle class="p" cx="297" cy="313" r="5"/><text class="t" x="297" y="314">MIL</text></g>
<g id="gbr90-s7"><circle class="p" cx="297" cy="326" r="5"/><text class="t" x="297" y="327">RFI</text></g>
<g id="gbr90-s8"><circle class="p" cx="288" cy="336" r="5"/><text class="t" x="288" y="337">TRP</text></g>
<g id="gbr90-s9"><circle class="p" cx="277" cy="344" r="5"/><text class="t" x="277" y="345">UTIL</text></g>
<g id="gbr90-s10"><circle class="p" cx="264" cy="347" r="5"/><text class="t" x="264" y="348">DIP</text></g>
<g id="gbr90-s11"><circle class="p" cx="246" cy="346" r="5"/><text class="t" x="246" y="347">JOUR</text></g>
<g id="gbr90-m5"><circle class="m" cx="311" cy="338" r="5"/><text class="t" x="311" y="339">INLA</text></g>
<!-- GBR 2000 -->
<g id="gbr00-pp"><circle class="p" cx="357" cy="313" r="5"/><text class="t" x="357" y="314">PP_GBR</text></g>
<g id="gbr00-m1"><circle class="m" cx="342" cy="299" r="5"/><text class="t" x="342" y="300">UVF</text></g>
<g id="gbr00-m2"><circle class="m" cx="367" cy="297" r="5"/><text class="t" x="367" y="298">UDA</text></g>
<g id="gbr00-m3"><circle class="m" cx="346" cy="327" r="5"/><text class="t" x="346" y="328">UFF</text></g>
<g id="gbr00-m4"><circle class="m" cx="367" cy="327" r="5"/><text class="t" x="367" y="328">RHC</text></g>
<g id="gbr00-ira"><circle class="m" cx="411" cy="313" r="5"/><text class="t" x="411" y="314">IRA</text></g>
<g id="gbr00-s1"><circle class="p" cx="386" cy="284" r="5"/><text class="t" x="386" y="285">EDI</text></g>
<g id="gbr00-s2"><circle class="p" cx="401" cy="278" r="5"/><text class="t" x="401" y="279">BUS</text></g>
<g id="gbr00-s3"><circle class="p" cx="417" cy="276" r="5"/><text class="t" x="417" y="277">PCP</text></g>
<g id="gbr00-s4"><circle class="p" cx="433" cy="277" r="5"/><text class="t" x="433" y="278">TOU</text></g>
<g id="gbr00-s5"><circle class="p" cx="442" cy="286" r="5"/><text class="t" x="442" y="287">GOVG</text></g>
<g id="gbr00-s6"><circle class="p" cx="449" cy="297" r="5"/><text class="t" x="449" y="298">POL</text></g>
<g id="gbr00-s7"><circle class="p" cx="453" cy="312" r="5"/><text class="t" x="453" y="313">MIL</text></g>
<g id="gbr00-s8"><circle class="p" cx="453" cy="325" r="5"/><text class="t" x="453" y="326">RFI</text></g>
<g id="gbr00-s9"><circle class="p" cx="443" cy="337" r="5"/><text class="t" x="443" y="338">TRP</text></g>
<g id="gbr00-s10"><circle class="p" cx="432" cy="347" r="5"/><text class="t" x="432" y="348">UTIL</text></g>
<g id="gbr00-s11"><circle class="p" cx="418" cy="349" r="5"/><text class="t" x="418" y="350">DIP</text></g>
<g id="gbr00-s12"><circle class="p" cx="398" cy="348" r="5"/><text class="t" x="398" y="349">JOUR</text></g>
<g id="gbr00-m5"><circle class="m" cx="467" cy="340" r="5"/><text class="t" x="467" y="341">INLA</text></g>
<!-- GBR 2010 -->
<g id="gbr10-pp"><circle class="p" cx="532" cy="314" r="5.5"/><text class="t" x="532" y="315">PP_GBR</text></g>
<g id="gbr10-m1"><circle class="m" cx="513" cy="297" r="5.5"/><text class="t" x="513" y="298">UVF</text></g>
<g id="gbr10-m2"><circle class="m" cx="543" cy="297" r="5.5"/><text class="t" x="543" y="298">UDA</text></g>
<g id="gbr10-m3"><circle class="m" cx="502" cy="314" r="5.5"/><text class="t" x="502" y="315">LVF</text></g>
<g id="gbr10-m4"><circle class="m" cx="519" cy="329" r="5.5"/><text class="t" x="519" y="330">UFF</text></g>
<g id="gbr10-m5"><circle class="m" cx="547" cy="328" r="5.5"/><text class="t" x="547" y="329">RHC</text></g>
<g id="gbr10-ira"><circle class="m" cx="597" cy="314" r="5.5"/><text class="t" x="597" y="315">IRA</text></g>
<g id="gbr10-s1"><circle class="p" cx="567" cy="280" r="5.5"/><text class="t" x="567" y="281">FSL</text></g>
<g id="gbr10-s2"><circle class="p" cx="586" cy="273" r="5.5"/><text class="t" x="586" y="274">EDI</text></g>
<g id="gbr10-s3"><circle class="p" cx="605" cy="269" r="5.5"/><text class="t" x="605" y="270">BUS</text></g>
<g id="gbr10-s4"><circle class="p" cx="624" cy="270" r="5.5"/><text class="t" x="624" y="271">PCP</text></g>
<g id="gbr10-s5"><circle class="p" cx="640" cy="281" r="5.5"/><text class="t" x="640" y="282">GOVG</text></g>
<g id="gbr10-s6"><circle class="p" cx="647" cy="295" r="5.5"/><text class="t" x="647" y="296">TOU</text></g>
<g id="gbr10-s7"><circle class="p" cx="650" cy="313" r="5.5"/><text class="t" x="650" y="314">POL</text></g>
<g id="gbr10-s8"><circle class="p" cx="652" cy="329" r="5.5"/><text class="t" x="652" y="330">RFI</text></g>
<g id="gbr10-s9"><circle class="p" cx="639" cy="343" r="5.5"/><text class="t" x="639" y="344">TRP</text></g>
<g id="gbr10-s10"><circle class="p" cx="625" cy="354" r="5.5"/><text class="t" x="625" y="355">UTIL</text></g>
<g id="gbr10-s11"><circle class="p" cx="609" cy="357" r="5.5"/><text class="t" x="609" y="358">DIP</text></g>
<g id="gbr10-s12"><circle class="p" cx="584" cy="356" r="5.5"/><text class="t" x="584" y="357">MIL</text></g>
<g id="gbr10-m6"><circle class="m" cx="669" cy="346" r="5.5"/><text class="t" x="669" y="347">INLA</text></g>
<!-- GBR 2016 -->
<g id="gbr16-pp"><circle class="p" cx="731" cy="321" r="5.5"/><text class="t" x="731" y="322">PP_GBR</text></g>
<g id="gbr16-m1"><circle class="m" cx="721" cy="302" r="5.5"/><text class="t" x="721" y="303">UVF</text></g>
<g id="gbr16-m2"><circle class="m" cx="743" cy="303" r="5.5"/><text class="t" x="743" y="304">UDA</text></g>
<g id="gbr16-m3"><circle class="m" cx="704" cy="309" r="5.5"/><text class="t" x="704" y="310">LVF</text></g>
<g id="gbr16-m4"><circle class="m" cx="706" cy="329" r="5.5"/><text class="t" x="706" y="330">UFF</text></g>
<g id="gbr16-m5"><circle class="m" cx="719" cy="342" r="5.5"/><text class="t" x="719" y="343">RHC</text></g>
<g id="gbr16-m6"><circle class="m" cx="741" cy="342" r="5.5"/><text class="t" x="741" y="343">OV</text></g>
<g id="gbr16-ira"><circle class="m" cx="797" cy="321" r="5.5"/><text class="t" x="797" y="322">IRA</text></g>
<g id="gbr16-m7"><circle class="m" cx="754" cy="276" r="5.5"/><text class="t" x="754" y="277">Dissid</text></g>
<g id="gbr16-s1"><circle class="p" cx="768" cy="287" r="5.5"/><text class="t" x="768" y="288">FSL</text></g>
<g id="gbr16-s2"><circle class="p" cx="785" cy="280" r="5.5"/><text class="t" x="785" y="281">PCP</text></g>
<g id="gbr16-s3"><circle class="p" cx="804" cy="277" r="5.5"/><text class="t" x="804" y="278">BUS</text></g>
<g id="gbr16-s4"><circle class="p" cx="822" cy="277" r="5.5"/><text class="t" x="822" y="278">EDI</text></g>
<g id="gbr16-s5"><circle class="p" cx="835" cy="287" r="5.5"/><text class="t" x="835" y="288">GOVG</text></g>
<g id="gbr16-s6"><circle class="p" cx="845" cy="302" r="5.5"/><text class="t" x="845" y="303">TOU</text></g>
<g id="gbr16-s7"><circle class="p" cx="849" cy="320" r="5.5"/><text class="t" x="849" y="321">POL</text></g>
<g id="gbr16-s8"><circle class="p" cx="850" cy="337" r="5.5"/><text class="t" x="850" y="338">RFI</text></g>
<g id="gbr16-m8"><circle class="m" cx="867" cy="353" r="5.5"/><text class="t" x="867" y="354">INLA</text></g>
<g id="gbr16-s9"><circle class="p" cx="837" cy="349" r="5.5"/><text class="t" x="837" y="350">TRP</text></g>
<g id="gbr16-s10"><circle class="p" cx="824" cy="361" r="5.5"/><text class="t" x="824" y="362">UTIL</text></g>
<g id="gbr16-s11"><circle class="p" cx="806" cy="364" r="5.5"/><text class="t" x="806" y="365">DIP</text></g>
<g id="gbr16-s12"><circle class="p" cx="782" cy="363" r="5.5"/><text class="t" x="782" y="364">MIL</text></g>
<!-- IND 1990 -->
<g id="ind90-govg"><circle class="p" cx="242" cy="410" r="7"/><text class="t" x="242" y="411">GOVG_IND</text></g>
<g id="ind90-c"><circle class="m" cx="242" cy="437" r="7"/><text class="t" x="242" y="438">GNLF_IND</text></g>
<g id="ind90-pcp"><circle class="p" cx="196" cy="437" r="7"/><text class="t" x="196" y="438">PCP_IND</text></g>
<g id="ind90-rfi"><circle class="p" cx="242" cy="462" r="7"/><text class="t" x="242" y="463">RFI_IND</text></g>
<g id="ind90-tp"><circle class="p" cx="284" cy="437" r="7"/><text class="t" x="284" y="438">TP_IND</text></g>
<g id="ind90-dr"><circle class="m" cx="297" cy="455" r="7"/><text class="t" x="297" y="456">DisReg_IND</text></g>
<!-- IND 2000 -->
<g id="ind00-c"><circle class="m" cx="415" cy="456" r="6"/><text class="t" x="415" y="457">GNLF_IND</text></g>
<g id="ind00-hug"><circle class="p" cx="342" cy="404" r="6"/><text class="t" x="342" y="405">HUG_IND</text></g>
<g id="ind00-upp"><circle class="p" cx="372" cy="394" r="6"/><text class="t" x="372" y="395">UPP_IND</text></g>
<g id="ind00-let"><circle class="m" cx="414" cy="416" r="6"/><text class="t" x="414" y="417">LeT_IND</text></g>
<g id="ind00-govg"><circle class="p" cx="415" cy="435" r="6"/><text class="t" x="415" y="436">GOVG_IND</text></g>
<g id="ind00-pol"><circle class="p" cx="451" cy="396" r="6"/><text class="t" x="451" y="397">POL_IND</text></g>
<g id="ind00-pcl"><circle class="p" cx="471" cy="408" r="6"/><text class="t" x="471" y="409">PCL_IND</text></g>
<g id="ind00-hza"><circle class="m" cx="358" cy="438" r="6"/><text class="t" x="358" y="439">HZA_IND</text></g>
<g id="ind00-pcp"><circle class="p" cx="378" cy="456" r="6"/><text class="t" x="378" y="457">PCP_IND</text></g>
<g id="ind00-isp"><circle class="p" cx="449" cy="456" r="6"/><text class="t" x="449" y="457">ISP_IND</text></g>
<g id="ind00-dr"><circle class="m" cx="458" cy="471" r="6"/><text class="t" x="458" y="472">DisReg_IND</text></g>
<g id="ind00-rfi"><circle class="p" cx="415" cy="477" r="6"/><text class="t" x="415" y="478">RFI_IND</text></g>
<!-- IND 2010 -->
<g id="ind10-upp"><circle class="p" cx="558" cy="384" r="6"/><text class="t" x="558" y="385">UPP_IND</text></g>
<g id="ind10-tnm"><circle class="p" cx="583" cy="379" r="6"/><text class="t" x="583" y="380">TNM_IND</text></g>
<g id="ind10-tnm2"><circle class="p" cx="610" cy="378" r="6"/><text class="t" x="610" y="379">TGM_IND</text></g>
<g id="ind10-pol"><circle class="p" cx="635" cy="386" r="6"/><text class="t" x="635" y="387">POL_IND</text></g>
<g id="ind10-pcl"><circle class="p" cx="651" cy="399" r="6"/><text class="t" x="651" y="400">PCL_IND</text></g>
<g id="ind10-hub"><circle class="m" cx="604" cy="415" r="6"/><text class="t" x="604" y="416">CPI-Maoist_IND</text></g>
<g id="ind10-hug"><circle class="p" cx="528" cy="416" r="6"/><text class="t" x="528" y="417">HUG_IND</text></g>
<g id="ind10-hza"><circle class="m" cx="545" cy="451" r="6"/><text class="t" x="545" y="452">HZA_IND</text></g>
<g id="ind10-uil"><circle class="p" cx="517" cy="452" r="6"/><text class="t" x="517" y="453">UIL_IND</text></g>
<g id="ind10-pcp"><circle class="p" cx="567" cy="471" r="6"/><text class="t" x="567" y="472">PCP_IND</text></g>
<g id="ind10-govg"><circle class="p" cx="606" cy="448" r="6"/><text class="t" x="606" y="449">GOVG_IND</text></g>
<g id="ind10-c"><circle class="m" cx="606" cy="471" r="6"/><text class="t" x="606" y="472">GNLF_IND</text></g>
<g id="ind10-isp"><circle class="p" cx="641" cy="471" r="6"/><text class="t" x="641" y="472">ISP_IND</text></g>
<g id="ind10-dr"><circle class="m" cx="651" cy="487" r="6"/><text class="t" x="651" y="488">DisReg_IND</text></g>
<g id="ind10-rfi"><circle class="p" cx="606" cy="493" r="6"/><text class="t" x="606" y="494">RFI_IND</text></g>
<g id="ind10-m1"><circle class="m" cx="535" cy="472" r="6"/><text class="t" x="535" y="473">NSCN_IND</text></g>
<g id="ind10-m2"><circle class="m" cx="546" cy="494" r="6"/><text class="t" x="546" y="495">ULFA_IND</text></g>
<g id="ind10-m3"><circle class="m" cx="573" cy="495" r="6"/><text class="t" x="573" y="496">NDFB_IND</text></g>
<!-- IND 2016 -->
<g id="ind16-t"><circle class="m" cx="805" cy="383" r="5"/><text class="t" x="805" y="384">LeT_IND</text></g>
<g id="ind16-a"><circle class="p" cx="741" cy="395" r="5"/><text class="t" x="741" y="396">UPP</text></g>
<g id="ind16-b"><circle class="p" cx="731" cy="407" r="5"/><text class="t" x="731" y="408">TNM</text></g>
<g id="ind16-c"><circle class="p" cx="837" cy="407" r="5"/><text class="t" x="837" y="408">POL</text></g>
<g id="ind16-d"><circle class="p" cx="721" cy="421" r="5"/><text class="t" x="721" y="422">HUG</text></g>
<g id="ind16-e"><circle class="p" cx="775" cy="417" r="5"/><text class="t" x="775" y="418">PCL</text></g>
<g id="ind16-f"><circle class="p" cx="794" cy="417" r="5"/><text class="t" x="794" y="418">MIL</text></g>
<g id="ind16-h1"><circle class="m" cx="759" cy="428" r="5"/><text class="t" x="759" y="429">CPI-M</text></g>
<g id="ind16-h2"><circle class="m" cx="809" cy="428" r="5"/><text class="t" x="809" y="429">GNLF</text></g>
<g id="ind16-g"><circle class="p" cx="754" cy="446" r="5"/><text class="t" x="754" y="447">UIL</text></g>
<g id="ind16-h"><circle class="p" cx="815" cy="446" r="5"/><text class="t" x="815" y="447">ISP</text></g>
<g id="ind16-i"><circle class="m" cx="850" cy="446" r="5"/><text class="t" x="850" y="447">DisReg</text></g>
<g id="ind16-j"><circle class="m" cx="759" cy="464" r="5"/><text class="t" x="759" y="465">HZA</text></g>
<g id="ind16-k"><circle class="p" cx="809" cy="464" r="5"/><text class="t" x="809" y="465">GOVG</text></g>
<g id="ind16-p"><circle class="p" cx="775" cy="476" r="5"/><text class="t" x="775" y="477">PCP</text></g>
<g id="ind16-l"><circle class="m" cx="794" cy="476" r="5"/><text class="t" x="794" y="477">SIMI</text></g>
<g id="ind16-n"><circle class="p" cx="730" cy="485" r="5"/><text class="t" x="730" y="486">EDI</text></g>
<g id="ind16-o"><circle class="m" cx="743" cy="497" r="5"/><text class="t" x="743" y="498">NSCN</text></g>
<g id="ind16-q"><circle class="m" cx="756" cy="506" r="5"/><text class="t" x="756" y="507">NDFB</text></g>
<g id="ind16-r"><circle class="m" cx="771" cy="511" r="5"/><text class="t" x="771" y="512">ULFA</text></g>
<g id="ind16-s"><circle class="m" cx="788" cy="512" r="5"/><text class="t" x="788" y="513">KLO</text></g>
<g id="ind16-u"><circle class="p" cx="805" cy="509" r="5"/><text class="t" x="805" y="510">RFI</text></g>
<!-- PAK 2000 -->
<g id="pak00-govg"><circle class="p" cx="372" cy="528" r="8"/><text class="t5" x="372" y="530">GOVG_PAK</text></g>
<g id="pak00-mqm"><circle class="m" cx="396" cy="563" r="8"/><text class="t5" x="396" y="565">MQM_PAK</text></g>
<g id="pak00-pol"><circle class="p" cx="345" cy="563" r="8"/><text class="t5" x="345" y="565">POL_PAK</text></g>
<g id="pak00-tp"><circle class="p" cx="454" cy="563" r="8"/><text class="t5" x="454" y="565">TP_PAK</text></g>
<g id="pak00-pcp"><circle class="p" cx="419" cy="601" r="8"/><text class="t5" x="419" y="603">PCP_PAK</text></g>
<!-- PAK 2010 -->
<g id="pak10-govg"><circle class="p" cx="531" cy="546" r="6"/><text class="t" x="531" y="547">GOVG_PAK</text></g>
<g id="pak10-ttp"><circle class="m" cx="576" cy="568" r="6"/><text class="t" x="576" y="569">TTP_PAK</text></g>
<g id="pak10-rfi"><circle class="p" cx="602" cy="526" r="6"/><text class="t" x="602" y="527">RFI_PAK</text></g>
<g id="pak10-tp"><circle class="p" cx="642" cy="570" r="6"/><text class="t" x="642" y="571">TP_PAK</text></g>
<g id="pak10-lej"><circle class="m" cx="629" cy="601" r="6"/><text class="t" x="629" y="602">MQM_PAK</text></g>
<g id="pak10-bus"><circle class="p" cx="535" cy="598" r="6"/><text class="t" x="535" y="599">BUS_PAK</text></g>
<g id="pak10-edi"><circle class="p" cx="557" cy="615" r="6"/><text class="t" x="557" y="616">EDI_PAK</text></g>
<g id="pak10-pol"><circle class="p" cx="579" cy="624" r="6"/><text class="t" x="579" y="625">POL_PAK</text></g>
<!-- PAK 2016 -->
<g id="pak16-a"><circle class="p" cx="773" cy="528" r="6"/><text class="t" x="773" y="529">RFI_PAK</text></g>
<g id="pak16-b"><circle class="p" cx="750" cy="535" r="6"/><text class="t" x="750" y="536">TRP_PAK</text></g>
<g id="pak16-c"><circle class="p" cx="796" cy="535" r="6"/><text class="t" x="796" y="536">MIL_PAK</text></g>
<g id="pak16-m1"><circle class="m" cx="820" cy="547" r="6"/><text class="t" x="820" y="548">LeJ_PAK</text></g>
<g id="pak16-govg"><circle class="p" cx="734" cy="553" r="6"/><text class="t" x="734" y="554">GOVG_PAK</text></g>
<g id="pak16-ttp"><circle class="m" cx="773" cy="573" r="6"/><text class="t" x="773" y="574">TTP_PAK</text></g>
<g id="pak16-tp"><circle class="p" cx="830" cy="573" r="6"/><text class="t" x="830" y="574">TP_PAK</text></g>
<g id="pak16-m2"><circle class="m" cx="859" cy="573" r="6"/><text class="t" x="859" y="574">BLA_PAK</text></g>
<g id="pak16-e"><circle class="p" cx="729" cy="575" r="6"/><text class="t" x="729" y="576">UTIL_PAK</text></g>
<g id="pak16-f"><circle class="p" cx="738" cy="598" r="6"/><text class="t" x="738" y="599">BUS_PAK</text></g>
<g id="pak16-g"><circle class="p" cx="756" cy="613" r="6"/><text class="t" x="756" y="614">EDI_PAK</text></g>
<g id="pak16-h"><circle class="p" cx="776" cy="622" r="6"/><text class="t" x="776" y="623">POL_PAK</text></g>
<g id="pak16-i"><circle class="p" cx="795" cy="612" r="6"/><text class="t" x="795" y="613">PCP_PAK</text></g>
<g id="pak16-m3"><circle class="m" cx="819" cy="601" r="6"/><text class="t" x="819" y="602">MQM_PAK</text></g>
<g id="pak16-m4"><circle class="m" cx="777" cy="647" r="6"/><text class="t" x="777" y="648">IMU_PAK</text></g>
<!-- AFG 2010 -->
<g id="afg10-bus"><circle class="p" cx="576" cy="656" r="9"/><text class="t5" x="576" y="658">BUS_AFG</text></g>
<g id="afg10-pcp"><circle class="p" cx="536" cy="673" r="9"/><text class="t5" x="536" y="675">PCP_AFG</text></g>
<g id="afg10-tal"><circle class="m" cx="573" cy="703" r="9"/><text class="t5" x="573" y="705">Taliban_AFG</text></g>
<g id="afg10-edi"><circle class="p" cx="521" cy="703" r="9"/><text class="t5" x="521" y="705">EDI_AFG</text></g>
<g id="afg10-trp"><circle class="p" cx="536" cy="732" r="9"/><text class="t5" x="536" y="734">TRP_AFG</text></g>
<g id="afg10-govg"><circle class="p" cx="573" cy="749" r="9"/><text class="t5" x="573" y="751">GOVG_AFG</text></g>
<g id="afg10-pol"><circle class="p" cx="614" cy="680" r="9"/><text class="t5" x="614" y="682">POL_AFG</text></g>
<g id="afg10-rfi"><circle class="p" cx="614" cy="725" r="9"/><text class="t5" x="614" y="727">RFI_AFG</text></g>
<!-- AFG 2016 -->
<g id="afg16-lh"><circle class="m" cx="705" cy="713" r="5"/><text class="t" x="705" y="714">ISKP_AFG</text></g>
<g id="afg16-s1"><circle class="p" cx="685" cy="685" r="5"/><text class="t" x="685" y="686">UTIL</text></g>
<g id="afg16-s2"><circle class="p" cx="700" cy="673" r="5"/><text class="t" x="700" y="674">PCP</text></g>
<g id="afg16-s3"><circle class="p" cx="719" cy="668" r="5"/><text class="t" x="719" y="669">BUS</text></g>
<g id="afg16-s4"><circle class="p" cx="735" cy="673" r="5"/><text class="t" x="735" y="674">POL</text></g>
<g id="afg16-s5"><circle class="p" cx="675" cy="702" r="5"/><text class="t" x="675" y="703">GOVD</text></g>
<g id="afg16-s6"><circle class="p" cx="671" cy="721" r="5"/><text class="t" x="671" y="722">EDI</text></g>
<g id="afg16-s7"><circle class="p" cx="676" cy="740" r="5"/><text class="t" x="676" y="741">TRP</text></g>
<g id="afg16-s8"><circle class="p" cx="687" cy="756" r="5"/><text class="t" x="687" y="757">RFI</text></g>
<g id="afg16-g1"><circle class="p" cx="707" cy="747" r="5"/><text class="t" x="707" y="748">GOVG</text></g>
<g id="afg16-ma"><circle class="m" cx="731" cy="747" r="5"/><text class="t" x="731" y="748">HQN</text></g>
<g id="afg16-mb"><circle class="m" cx="758" cy="748" r="5"/><text class="t" x="758" y="749">HIG</text></g>
<g id="afg16-mid"><circle class="p" cx="750" cy="713" r="5"/><text class="t" x="750" y="714">MIL_AFG</text></g>
<g id="afg16-rh"><circle class="m" cx="824" cy="713" r="5"/><text class="t" x="824" y="714">Taliban</text></g>
<g id="afg16-r1"><circle class="p" cx="794" cy="682" r="5"/><text class="t" x="794" y="683">UTIL</text></g>
<g id="afg16-r2"><circle class="p" cx="809" cy="670" r="5"/><text class="t" x="809" y="671">NGO</text></g>
<g id="afg16-r3"><circle class="p" cx="832" cy="668" r="5"/><text class="t" x="832" y="669">BUS</text></g>
<g id="afg16-r4"><circle class="p" cx="853" cy="681" r="5"/><text class="t" x="853" y="682">POL</text></g>
<g id="afg16-r5"><circle class="p" cx="864" cy="700" r="5"/><text class="t" x="864" y="701">PCP</text></g>
<g id="afg16-r6"><circle class="p" cx="865" cy="723" r="5"/><text class="t" x="865" y="724">RFI</text></g>
<g id="afg16-r7"><circle class="p" cx="855" cy="743" r="5"/><text class="t" x="855" y="744">TRP</text></g>
<g id="afg16-g2"><circle class="p" cx="835" cy="754" r="5"/><text class="t" x="835" y="755">GOVG</text></g>
<g id="afg16-r8"><circle class="p" cx="813" cy="754" r="5"/><text class="t" x="813" y="755">EDI</text></g>
<g id="afg16-r9"><circle class="p" cx="792" cy="738" r="5"/><text class="t" x="792" y="739">JOUR</text></g>
<g id="afg16-r10"><circle class="p" cx="782" cy="696" r="5"/><text class="t" x="782" y="697">DIP</text></g>
<g id="afg16-mc"><circle class="m" cx="843" cy="773" r="5"/><text class="t" x="843" y="774">HQN</text></g>
</g>
</svg>
